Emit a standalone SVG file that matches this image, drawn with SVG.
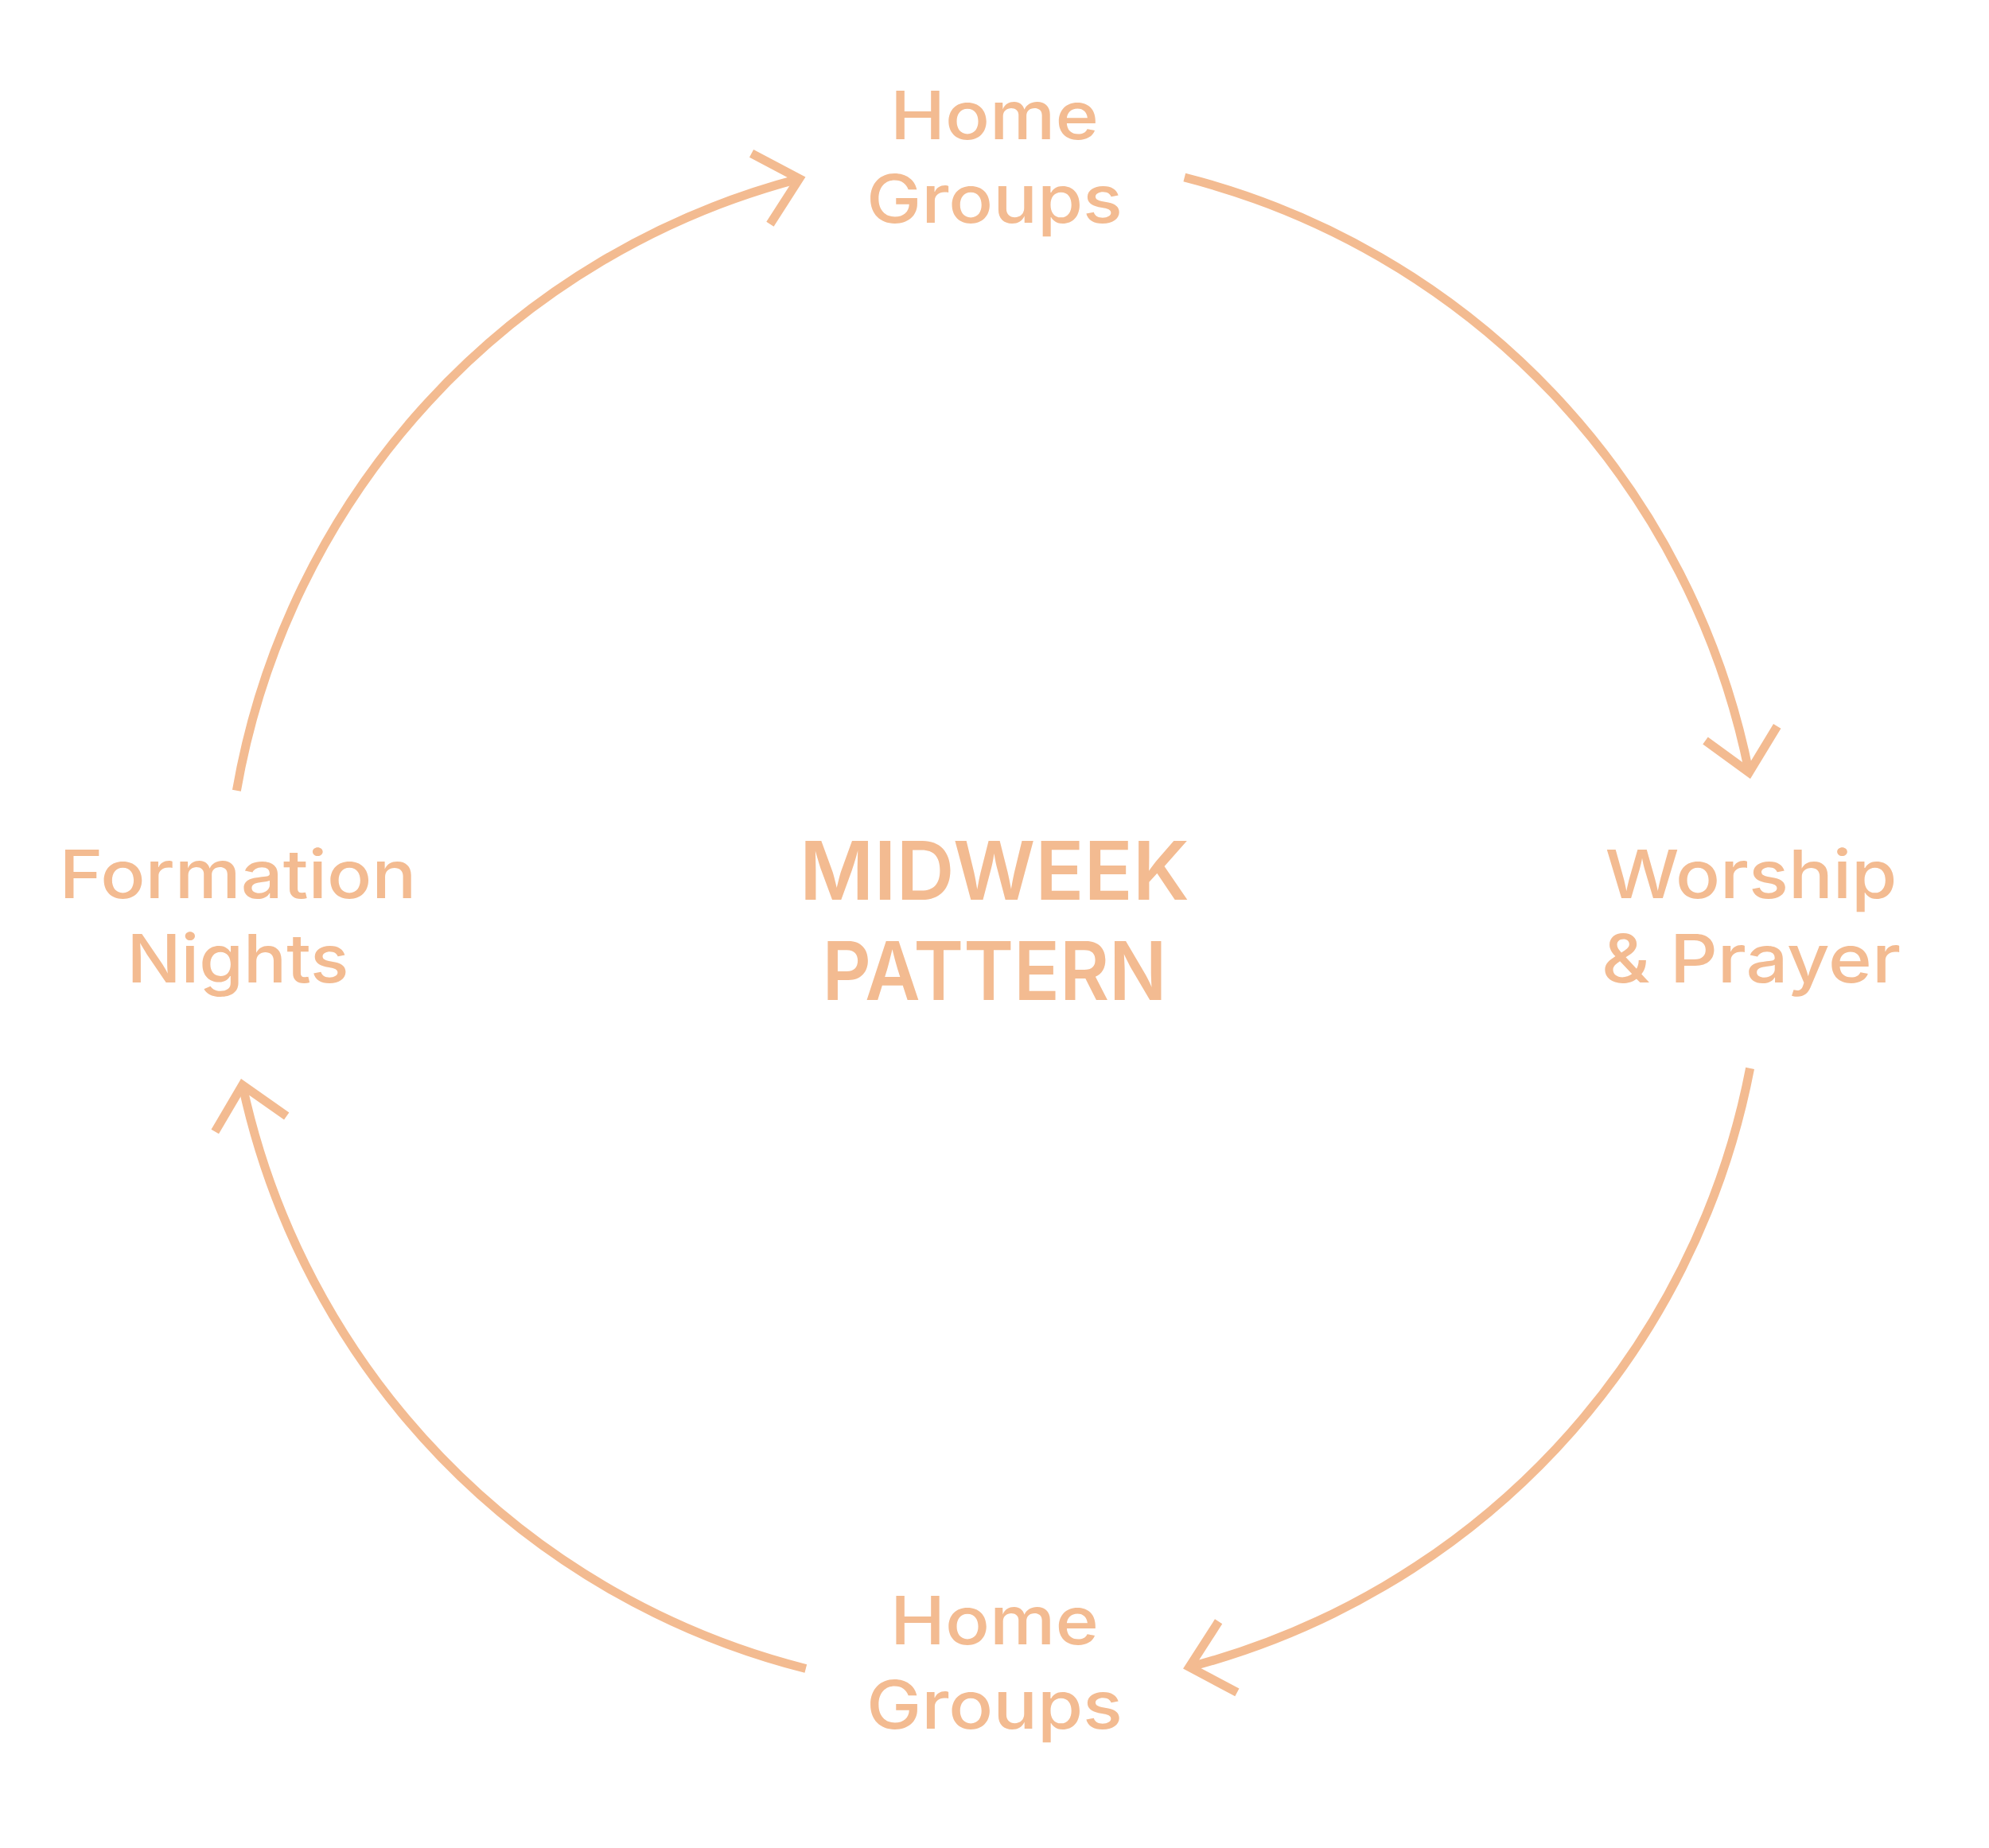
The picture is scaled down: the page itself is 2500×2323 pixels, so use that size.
<svg xmlns="http://www.w3.org/2000/svg" width="2500" height="2323" viewBox="0 0 2500 2323">
<defs>
<style>
.lbl{font-family:Inter,"Liberation Sans",sans-serif;font-size:84px;font-weight:500;fill:#F3BB91;text-anchor:middle}
.ttl{font-family:Inter,"Liberation Sans",sans-serif;font-size:102px;font-weight:600;fill:#F3BB91;text-anchor:middle}
.arc{fill:none;stroke:#F3BB91;stroke-width:11;stroke-linecap:butt}
</style>
<marker id="arr" markerUnits="userSpaceOnUse" orient="auto" refX="0" refY="0" markerWidth="200" markerHeight="200" overflow="visible">
<path d="M-50,-46 L0,0 L-50,46" fill="none" stroke="#F3BB91" stroke-width="11" stroke-linejoin="miter" stroke-miterlimit="4"/>
</marker>
</defs>
<rect width="2500" height="2323" fill="#FFFFFF"/>
<g id="connectors">
<path class="arc" d="M297.4,993.7 A967,967 0 0 1 1004.6,224.6" marker-end="url(#arr)"/>
<path class="arc" d="M1488.8,223 A967,967 0 0 1 2198.4,971" marker-end="url(#arr)"/>
<path class="arc" d="M2199.6,1342.9 A967,967 0 0 1 1494.9,2095.5" marker-end="url(#arr)"/>
<path class="arc" d="M1012.8,2097.5 A967,967 0 0 1 304.7,1363.9" marker-end="url(#arr)"/>
</g>
<g id="center">
<text class="ttl" x="1250" y="1131" textLength="490" lengthAdjust="spacingAndGlyphs">MIDWEEK</text>
<text class="ttl" x="1250" y="1257" textLength="433" lengthAdjust="spacingAndGlyphs">PATTERN</text>
</g>
<g id="home-groups-top">
<text class="lbl" x="1250" y="175" textLength="262" lengthAdjust="spacingAndGlyphs">Home</text>
<text class="lbl" x="1250" y="280" textLength="322" lengthAdjust="spacingAndGlyphs">Groups</text>
</g>
<g id="worship-prayer">
<text class="lbl" x="2201" y="1129" textLength="367" lengthAdjust="spacingAndGlyphs">Worship</text>
<text class="lbl" x="2201" y="1235" textLength="376" lengthAdjust="spacingAndGlyphs">&amp; Prayer</text>
</g>
<g id="home-groups-bottom">
<text class="lbl" x="1250" y="2067" textLength="262" lengthAdjust="spacingAndGlyphs">Home</text>
<text class="lbl" x="1250" y="2173" textLength="322" lengthAdjust="spacingAndGlyphs">Groups</text>
</g>
<g id="formation-nights">
<text class="lbl" x="299" y="1129" textLength="449" lengthAdjust="spacingAndGlyphs">Formation</text>
<text class="lbl" x="299" y="1235" textLength="279" lengthAdjust="spacingAndGlyphs">Nights</text>
</g>
</svg>
